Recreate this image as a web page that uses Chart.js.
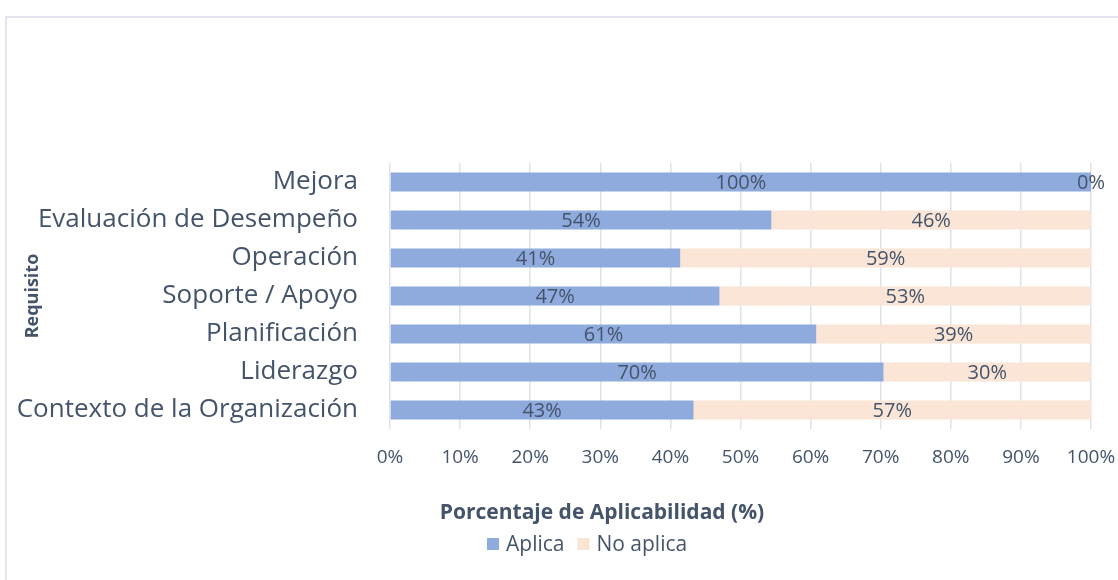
<!DOCTYPE html>
<html>
<head>
<meta charset="utf-8">
<script src="https://cdn.jsdelivr.net/npm/chart.js@4.4.1/dist/chart.umd.min.js"></script>
<style>
  body { margin: 0; background: #fff; }
  #wrap { position: relative; width: 1118px; height: 580px; overflow: hidden; }
  #frame { position: absolute; left: 5px; top: 16px; width: 1200px; height: 700px; border: 2px solid #e2e5ed; box-sizing: border-box; }
  #bar-chart { position: absolute; left: 0; top: 0; }
</style>
</head>
<body>
<div id="wrap">
  <div id="frame"></div>
  <canvas id="bar-chart" width="1118" height="580"></canvas>
</div>
<script>
// ---------- DATA ----------
var categories = ["Mejora", "Evaluación de Desempeño", "Operación", "Soporte / Apoyo", "Planificación", "Liderazgo", "Contexto de la Organización"];
var aplica = [100, 54.4, 41.4, 47.0, 60.8, 70.4, 43.3];
var noAplica = [0, 45.6, 58.6, 53.0, 39.2, 29.6, 56.7];
var xTicks = [0, 10, 20, 30, 40, 50, 60, 70, 80, 90, 100];

var textColor = "#44546a";
var fontName = "'Open Sans', 'Noto Sans', sans-serif";

// labels in the middle of every bar piece
var barLabels = {
  id: "barLabels",
  afterDatasetsDraw: function(chart) {
    var ctx = chart.ctx;
    ctx.save();
    ctx.font = "20px " + fontName;
    ctx.fillStyle = textColor;
    ctx.textAlign = "center";
    ctx.textBaseline = "middle";
    chart.data.datasets.forEach(function(ds, i) {
      chart.getDatasetMeta(i).data.forEach(function(bar, j) {
        var p = bar.getProps(["x", "y", "base"], true);
        ctx.fillText(Math.round(ds.data[j]) + "%", (p.x + p.base) / 2, p.y + 1);
      });
    });
    ctx.restore();
  }
};

// axis title + legend under the chart (Excel puts them off-centre)
var bottomLegend = {
  id: "bottomLegend",
  afterDraw: function(chart) {
    var ctx = chart.ctx;
    ctx.save();
    ctx.fillStyle = textColor;
    ctx.textBaseline = "middle";
    ctx.textAlign = "center";
    ctx.font = "bold 21px " + fontName;
    ctx.fillText("Porcentaje de Aplicabilidad (%)", 602, 513);

    ctx.font = "21px " + fontName;
    ctx.textAlign = "left";
    var x = 487;
    chart.data.datasets.forEach(function(ds) {
      ctx.fillStyle = ds.backgroundColor;
      ctx.fillRect(x, 538, 12, 12);
      ctx.fillStyle = textColor;
      ctx.fillText(ds.label, x + 19, 545);
      x += 19 + ctx.measureText(ds.label).width + 13;
    });
    ctx.restore();
  }
};

new Chart("bar-chart", {
  type: "bar",
  data: {
    labels: categories,
    datasets: [{
      label: "Aplica",
      data: aplica,
      backgroundColor: "#8faadc",
      barPercentage: 0.5,
      categoryPercentage: 1
    }, {
      label: "No aplica",
      data: noAplica,
      backgroundColor: "#fbe5d6",
      barPercentage: 0.5,
      categoryPercentage: 1
    }]
  },
  options: {
    indexAxis: "y",
    responsive: false,
    animation: false,
    layout: {
      padding: { top: 163, right: 27, bottom: 111, left: 0 }
    },
    plugins: {
      legend: { display: false },
      tooltip: { enabled: false }
    },
    scales: {
      x: {
        stacked: true,
        min: 0,
        max: 100,
        afterBuildTicks: function(scale) {
          scale.ticks = xTicks.map(function(v) { return { value: v }; });
        },
        afterFit: function(scale) {
          scale.height = 40;
          scale.paddingLeft = 0;
          scale.paddingRight = 0;
        },
        grid: { color: "#dde2eb", lineWidth: 1.5, drawTicks: false },
        border: { display: false },
        ticks: {
          padding: 17,
          color: textColor,
          font: { family: fontName, size: 19 },
          callback: function(v) { return v + "%"; }
        }
      },
      y: {
        stacked: true,
        afterFit: function(scale) { scale.width = 390; },
        grid: { display: false, drawTicks: false },
        border: { display: false },
        ticks: {
          padding: 32,
          color: textColor,
          font: { family: fontName, size: 26 }
        },
        title: {
          display: true,
          text: "Requisito",
          color: textColor,
          padding: { top: 22 },
          font: { family: fontName, size: 18, weight: "bold" }
        }
      }
    }
  },
  plugins: [barLabels, bottomLegend]
});
</script>
</body>
</html>
